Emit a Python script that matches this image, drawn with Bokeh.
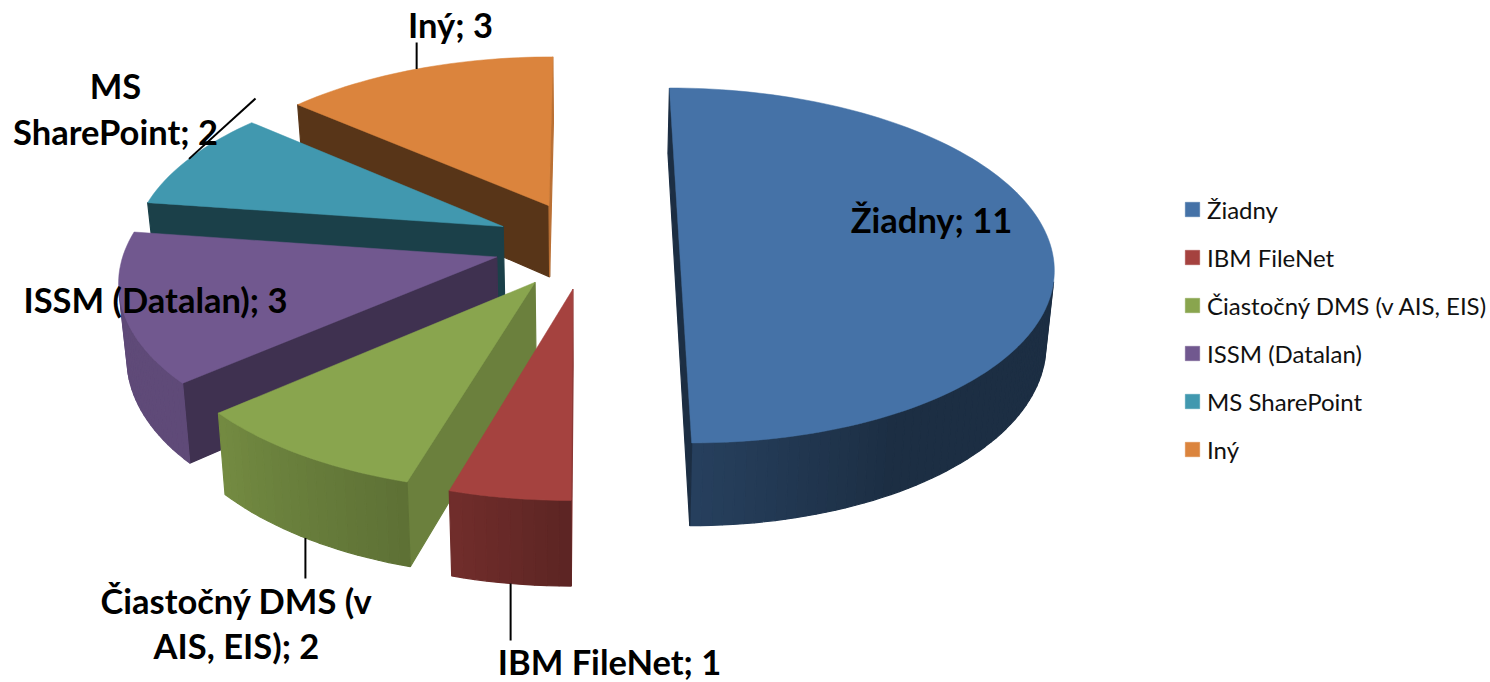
import numpy as np
from bokeh.plotting import figure
from bokeh.models import Legend, LegendItem, Range1d
from bokeh.embed import file_html
from bokeh.resources import INLINE
from bokeh.core.properties import value

categories = ["Žiadny", "IBM FileNet", "Čiastočný DMS (v AIS, EIS)", "ISSM (Datalan)", "MS SharePoint", "Iný"]
values = [11, 1, 2, 3, 2, 3]
colors = ["#4572A7", "#A5423F", "#89A54E", "#71588F", "#4198AF", "#DB843D"]

# projection of the 3-D exploded pie
X0, Y0, A, B, K, EXPLODE, DEPTH, BOTTOM_X = 586, 244, 371, 175, 0.118, 0.25, 73, 0.982
W, H = 1490, 682


def rgb(hexc, f):
    c = [int(hexc[i:i + 2], 16) for i in (1, 3, 5)]
    return "#%02x%02x%02x" % tuple(int(round(v * f)) for v in c)


def proj(mx, my, bottom=False):
    s = 1.0 / (1 + K * np.asarray(my, float))
    sx = A * np.asarray(mx, float) * s
    sy = -B * np.asarray(my, float) * s
    if bottom:
        return X0 + BOTTOM_X * sx, Y0 + sy + DEPTH * s
    return X0 + sx, Y0 + sy


def area(x, y):
    x, y = np.asarray(x), np.asarray(y)
    return 0.5 * np.sum(x * np.roll(y, -1) - np.roll(x, -1) * y)


def arc_shade(t):
    return np.interp(t, [150, 180, 196, 229, 360], [0.40, 0.56, 0.68, 0.84, 0.84])


def radial_shade(n):
    return np.interp(n % 360, [90, 106, 139, 188, 221, 270], [0.85, 0.78, 0.56, 0.42, 0.40, 0.40])


p = figure(width=W, height=H, x_range=Range1d(0, W), y_range=Range1d(H, 0),
           toolbar_location=None, output_backend="svg", min_border=0, outline_line_color=None)
p.axis.visible = False
p.grid.visible = False
p.background_fill_color = "white"

total = sum(values)
edges = np.cumsum([0] + values) / total * 360.0
geo = {}
tops = {}
for i in reversed(range(len(colors))):
    c = colors[i]
    t1, t2 = edges[i], edges[i + 1]
    mid = np.radians((t1 + t2) / 2)
    ox, oy = EXPLODE * np.sin(mid), EXPLODE * np.cos(mid)
    geo[i] = (ox, oy, np.degrees(mid))
    n = max(4, int((t2 - t1) / 1.5))
    th = np.linspace(t1, t2, n + 1)
    mx = np.r_[ox, ox + np.sin(np.radians(th))]
    my = np.r_[oy, oy + np.cos(np.radians(th))]
    tx, ty = proj(mx, my)
    bx, by = proj(mx, my, bottom=True)
    sign = np.sign(area(tx, ty))
    fx, fy, fc = [], [], []
    m = len(tx)
    for j in range(m):
        k = (j + 1) % m
        qx = [tx[j], tx[k], bx[k], bx[j]]
        qy = [ty[j], ty[k], by[k], by[j]]
        if np.sign(area(qx, qy)) == sign:
            continue
        if j == 0:
            sh = radial_shade(t1 - 90)
        elif j == m - 1:
            sh = radial_shade(t2 + 90)
        else:
            sh = arc_shade((th[j - 1] + th[j]) / 2)
        fx.append(qx); fy.append(qy); fc.append(rgb(c, sh))
    if fx:
        p.patches(fx, fy, fill_color=fc, line_color=fc, line_width=1.2)
    tops[i] = p.patch(tx, ty, fill_color=c, line_color=c, line_width=0.5)

# leader lines: from each slice's rim, to a label end point
LEADERS = {1: (None, 640), 2: (None, 578), 4: (255, 98), 5: (None, 42)}
for i, (ex, ey) in LEADERS.items():
    ox, oy, mid = geo[i]
    mx, my = ox + np.sin(np.radians(mid)), oy + np.cos(np.radians(mid))
    sx, sy = proj(mx, my, bottom=i in (1, 2))
    p.line([float(sx), float(ex if ex is not None else sx)], [float(sy), ey], line_color="black", line_width=2)

labels = [("Žiadny; 11", 931, 219), ("IBM FileNet; 1", 609, 661), ("Čiastočný DMS (v", 236, 600),
          ("AIS, EIS); 2", 236, 645), ("ISSM (Datalan); 3", 155, 299), ("MS", 115, 85),
          ("SharePoint; 2", 115, 131), ("Iný; 3", 450, 24)]
p.text([l[1] for l in labels], [l[2] for l in labels], text=[l[0] for l in labels],
       text_font=value("Lato"), text_font_style="bold", text_font_size="34.5px",
       text_color="black", text_align="center", text_baseline="middle")

leg = Legend(items=[LegendItem(label=value(c), renderers=[tops[i]]) for i, c in enumerate(categories)],
             location=(1183, 218.5), orientation="vertical", background_fill_alpha=0, border_line_color=None,
             glyph_width=18, glyph_height=18, label_standoff=6, spacing=19, label_height=29,
             label_text_font="Lato", label_text_font_size="24px", label_text_color="#111111",
             padding=0, margin=0)
p.add_layout(leg, "center")

open("out.html", "w").write(file_html(p, INLINE))
